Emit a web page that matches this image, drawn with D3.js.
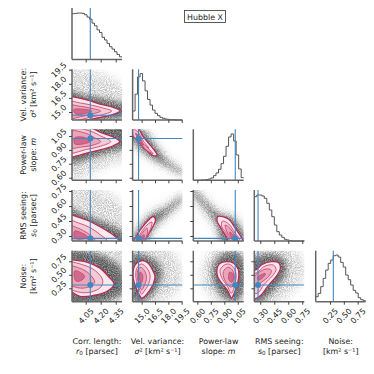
<!DOCTYPE html>
<html>
<head>
<meta charset="utf-8">
<script src="https://cdn.jsdelivr.net/npm/d3@7"></script>
<style>
  html, body { margin: 0; background: #fff; }
  svg { display: block; }
  text { font-family: "DejaVu Sans", sans-serif; fill: #222; }
</style>
</head>
<body>
<svg id="chart" width="374" height="374"></svg>
<script>
// axis limits per parameter
const xLimits = [[3.913, 4.413], [13.98, 19.58], [0.555, 1.116], [0.236, 0.772], [-0.008, 0.895]]
const yLimits = [null, [14.15, 19.54], [0.572, 1.122], [0.25, 0.76], [0.002, 0.946]]
const tickValues = [
  [4.05, 4.2, 4.35],
  [15, 16.5, 18, 19.5],
  [0.6, 0.75, 0.9, 1.05],
  [0.3, 0.45, 0.6, 0.75],
  [0.25, 0.5, 0.75],
]
const tickFormats = [".2f", ".1f", ".2f", ".2f", ".2f"]
const truth = [4.096, 14.65, 1.022, 0.276, 0.31]

// marginal histograms, 20 bins each
const histR0 = [136, 137, 138, 138, 137, 133, 126, 120, 108, 100, 88, 80, 66, 58, 48, 38, 31, 23, 15, 8]
const histSigma = [27, 78, 130, 140, 118, 88, 62, 45, 30, 20, 13, 8, 5, 3, 2, 1, 1, 0, 0, 0]
const histM = [0, 0, 0, 1, 1, 2, 4, 7, 14, 22, 33, 50, 72, 102, 130, 139, 118, 76, 34, 8]
const histS0 = [133, 138, 138, 135, 128, 113, 93, 73, 48, 28, 18, 11, 5, 3, 1, 0, 0, 0, 0, 0]
const histNoise = [15, 25, 45, 70, 95, 115, 125, 138, 140, 134, 118, 104, 80, 66, 50, 34, 26, 12, 6, 3]
const hists = [histR0, histSigma, histM, histS0, histNoise]

// grey sample cloud outlines, faint one first
const hazeR0Sigma = [
  [[3.85, 19.6], [4.1, 19.4], [4.3, 18.6], [4.45, 17.4], [4.5, 14], [3.85, 14]],
  [[3.85, 17.1], [4, 16.9], [4.2, 16.5], [4.42, 15.9], [4.5, 15.5], [4.45, 14.6], [4.2, 14.1], [3.85, 14]],
]
const hazeR0M = [
  [[3.85, 1.2], [4.45, 1.2], [4.45, 0.8], [4.3, 0.75], [4.1, 0.64], [3.85, 0.56]],
  [[3.85, 1.2], [4.45, 1.18], [4.45, 0.93], [4.3, 0.88], [4.1, 0.81], [3.85, 0.76]],
]
const hazeR0S0 = [
  [[3.85, 0.85], [4.1, 0.8], [4.35, 0.68], [4.5, 0.5], [4.5, 0.2], [3.85, 0.2]],
  [[3.85, 0.58], [4, 0.53], [4.2, 0.45], [4.45, 0.32], [4.5, 0.2], [3.85, 0.2]],
]
const hazeR0Noise = [
  [[3.85, 1.05], [4.5, 1.05], [4.5, -0.05], [3.85, -0.05]],
  [[3.85, 0.92], [4.15, 0.9], [4.3, 0.78], [4.41, 0.6], [4.43, 0.2], [4.3, 0.04], [3.85, -0.01]],
]
const hazeSigmaM = [
  [[13.8, 1.16], [15.4, 1.14], [16.7, 0.97], [18.2, 0.79], [19.7, 0.69], [19.7, 0.61], [18.2, 0.68], [16.5, 0.76], [15.2, 0.85], [14, 0.98], [13.8, 1.03]],
  [[13.8, 1.15], [15.2, 1.1], [16.5, 0.94], [18.2, 0.75], [19.7, 0.66], [19.7, 0.64], [18.2, 0.71], [16.5, 0.8], [15.2, 0.88], [14, 1], [13.8, 1.05]],
]
const hazeSigmaS0 = [
  [[13.9, 0.28], [15, 0.46], [16.3, 0.56], [17.8, 0.63], [19.7, 0.74], [19.7, 0.64], [17.8, 0.47], [16.5, 0.36], [15.7, 0.23], [15.3, 0.2], [13.9, 0.2]],
  [[13.9, 0.24], [15, 0.41], [16.3, 0.52], [17.8, 0.58], [19.7, 0.7], [19.7, 0.68], [17.8, 0.52], [16.4, 0.4], [15.6, 0.26], [15.2, 0.2], [13.9, 0.2]],
]
const hazeSigmaNoise = [
  [[14, 1.1], [17, 1.1], [19, 0.8], [19.7, 0.5], [19, 0.2], [16, -0.1], [14, -0.1]],
  [[14, 0.88], [15, 0.88], [16.7, 0.74], [17.3, 0.55], [16.9, 0.3], [15.8, 0.07], [15, -0.01], [14, 0]],
]
const hazeMS0 = [
  [[0.55, 0.8], [0.7, 0.68], [0.85, 0.56], [1, 0.52], [1.13, 0.34], [1.13, 0.2], [0.88, 0.2], [0.78, 0.39], [0.66, 0.54], [0.55, 0.68]],
  [[0.55, 0.77], [0.7, 0.63], [0.85, 0.51], [0.98, 0.48], [1.13, 0.3], [1.13, 0.2], [0.91, 0.2], [0.81, 0.43], [0.69, 0.58], [0.55, 0.73]],
]
const hazeMNoise = [
  [[0.85, 1.05], [1.13, 1.05], [1.13, -0.05], [0.9, -0.05], [0.7, 0.2], [0.64, 0.45], [0.68, 0.75]],
  [[0.9, 0.9], [1.05, 0.9], [1.12, 0.75], [1.12, 0.2], [1.03, 0.02], [0.95, 0.02], [0.83, 0.2], [0.77, 0.45], [0.78, 0.7]],
]
const hazeS0Noise = [
  [[0.2, 1.05], [0.6, 1.05], [0.78, 0.7], [0.75, 0.4], [0.5, 0], [0.3, -0.1], [0.2, -0.1]],
  [[0.2, 0.75], [0.3, 0.86], [0.45, 0.88], [0.57, 0.75], [0.57, 0.5], [0.45, 0.22], [0.3, 0], [0.2, 0]],
]

// posterior contours, outermost first
const levelsR0Sigma = [
  [[3.85, 16.7], [3.913, 16.63], [4.06, 16.28], [4.193, 15.85], [4.326, 15.5], [4.393, 15.14], [4.326, 14.75], [4.193, 14.43], [4.09, 14.22], [3.85, 14]],
  [[3.85, 16.1], [4, 15.95], [4.12, 15.7], [4.23, 15.4], [4.31, 15.1], [4.23, 14.75], [4.1, 14.45], [3.85, 14.1]],
  [[3.85, 15.7], [4, 15.6], [4.1, 15.4], [4.2, 15.1], [4.1, 14.75], [4, 14.5], [3.85, 14.3]],
  [[3.93, 15.25], [4.02, 15.3], [4.11, 15.1], [4.05, 14.85], [3.95, 14.8]],
]
const levelsR0M = [
  [[3.85, 1.16], [4.1, 1.14], [4.193, 1.09], [4.326, 1.04], [4.39, 0.99], [4.326, 0.945], [4.193, 0.9], [4.06, 0.866], [3.913, 0.82], [3.85, 0.8]],
  [[3.85, 1.14], [4.1, 1.1], [4.2, 1.05], [4.3, 0.99], [4.2, 0.94], [4.06, 0.905], [3.85, 0.87]],
  [[3.85, 1.1], [4.05, 1.08], [4.14, 1.03], [4.2, 0.99], [4.12, 0.95], [4, 0.93], [3.85, 0.92]],
  [[3.94, 1.03], [4.05, 1.03], [4.09, 0.99], [4.03, 0.965], [3.94, 0.965]],
]
const levelsR0S0 = [
  [[3.85, 0.53], [3.913, 0.51], [4.06, 0.46], [4.193, 0.393], [4.326, 0.31], [4.38, 0.26], [4.4, 0.2], [3.85, 0.2]],
  [[3.85, 0.46], [3.98, 0.43], [4.1, 0.38], [4.2, 0.31], [4.26, 0.26], [4.26, 0.2], [3.85, 0.2]],
  [[3.85, 0.41], [3.97, 0.38], [4.08, 0.32], [4.14, 0.26], [4.1, 0.22], [3.85, 0.22]],
  [[3.94, 0.35], [4, 0.335], [4.07, 0.29], [4.02, 0.27], [3.94, 0.28]],
]
const levelsR0Noise = [
  [[3.85, 0.8], [3.913, 0.778], [4.06, 0.735], [4.193, 0.624], [4.276, 0.47], [4.333, 0.33], [4.26, 0.19], [4.126, 0.117], [3.993, 0.1], [3.913, 0.18], [3.85, 0.25]],
  [[3.85, 0.72], [4.03, 0.68], [4.15, 0.57], [4.22, 0.4], [4.2, 0.27], [4.1, 0.18], [3.98, 0.18], [3.85, 0.3]],
  [[3.85, 0.66], [4.02, 0.6], [4.1, 0.49], [4.14, 0.36], [4.05, 0.26], [3.95, 0.27], [3.85, 0.37]],
  [[3.94, 0.57], [4, 0.54], [4.04, 0.47], [4, 0.39], [3.95, 0.39]],
]
const levelsSigmaM = [
  [[13.8, 1.13], [14.6, 1.13], [15.1, 1.05], [15.7, 0.98], [16.4, 0.9], [16.72, 0.845], [16.4, 0.835], [15.37, 0.91], [14.5, 1.01], [13.8, 1.08]],
  [[14, 1.12], [14.5, 1.1], [15.3, 0.98], [15.8, 0.92], [15.2, 0.94], [14.6, 1], [14, 1.06]],
  [[14.9, 0.98], [15.5, 0.94], [16.1, 0.88], [16.3, 0.86], [15.7, 0.885], [15.2, 0.93]],
  [[14.3, 1.08], [14.7, 1.05], [15.1, 0.98], [15.2, 0.95], [14.8, 0.99]],
]
const levelsSigmaS0 = [
  [[14, 0.24], [14.25, 0.27], [14.8, 0.355], [15.56, 0.44], [16.3, 0.495], [16.55, 0.46], [16.3, 0.4], [15.93, 0.343], [15.4, 0.26], [15.1, 0.2], [14, 0.2]],
  [[14.4, 0.24], [14.9, 0.33], [15.6, 0.41], [16.15, 0.44], [16, 0.37], [15.6, 0.3], [15.1, 0.22]],
  [[14.5, 0.24], [15, 0.32], [15.6, 0.38], [15.6, 0.31], [15.1, 0.24]],
  [[14.6, 0.24], [15, 0.3], [15.3, 0.31], [15.1, 0.25], [14.8, 0.22]],
]
const levelsSigmaNoise = [
  [[15, 0.76], [15.7, 0.72], [16.12, 0.62], [16.5, 0.47], [16.3, 0.33], [15.93, 0.22], [15.4, 0.11], [15, 0.07], [14.7, 0.14], [14.4, 0.25], [14.05, 0.44], [14.25, 0.68]],
  [[14.95, 0.7], [15.6, 0.62], [15.95, 0.48], [15.7, 0.3], [15.3, 0.2], [15, 0.14], [14.7, 0.25], [14.35, 0.45], [14.45, 0.62]],
  [[14.9, 0.64], [15.3, 0.58], [15.55, 0.45], [15.3, 0.3], [15, 0.22], [14.7, 0.32], [14.5, 0.47], [14.6, 0.6]],
  [[14.85, 0.55], [15.1, 0.5], [15.08, 0.39], [14.9, 0.34], [14.75, 0.43], [14.72, 0.51]],
]
const levelsMS0 = [
  [[0.83, 0.495], [0.945, 0.47], [1.02, 0.38], [1.1, 0.27], [1.13, 0.2], [0.94, 0.2], [0.94, 0.26], [0.87, 0.37], [0.82, 0.45]],
  [[0.88, 0.45], [0.95, 0.42], [1.02, 0.33], [1.07, 0.26], [0.98, 0.24], [0.92, 0.33], [0.87, 0.4]],
  [[0.91, 0.41], [0.96, 0.38], [1.02, 0.3], [1.04, 0.25], [0.99, 0.26], [0.93, 0.34]],
  [[0.96, 0.34], [1, 0.31], [1.03, 0.26], [0.99, 0.27]],
]
const levelsMNoise = [
  [[0.927, 0.745], [1, 0.72], [1.055, 0.6], [1.06, 0.45], [1.04, 0.3], [1, 0.12], [0.98, 0.07], [0.94, 0.2], [0.87, 0.35], [0.825, 0.47], [0.82, 0.62], [0.85, 0.71]],
  [[0.93, 0.7], [0.99, 0.66], [1.03, 0.53], [1.02, 0.33], [0.98, 0.16], [0.93, 0.3], [0.87, 0.45], [0.855, 0.6]],
  [[0.94, 0.64], [0.99, 0.59], [1.01, 0.46], [0.99, 0.28], [0.96, 0.28], [0.9, 0.42], [0.89, 0.56]],
  [[0.96, 0.55], [1, 0.51], [1, 0.41], [0.98, 0.36], [0.95, 0.42], [0.95, 0.51]],
]
const levelsS0Noise = [
  [[0.2, 0.55], [0.26, 0.6], [0.32, 0.69], [0.42, 0.745], [0.5, 0.72], [0.515, 0.62], [0.48, 0.49], [0.385, 0.3], [0.3, 0.11], [0.23, 0.05], [0.2, 0.1]],
  [[0.2, 0.47], [0.28, 0.56], [0.35, 0.66], [0.44, 0.68], [0.47, 0.6], [0.43, 0.48], [0.34, 0.32], [0.27, 0.16], [0.2, 0.18]],
  [[0.24, 0.47], [0.3, 0.56], [0.37, 0.61], [0.42, 0.58], [0.39, 0.47], [0.31, 0.36], [0.25, 0.28]],
  [[0.27, 0.45], [0.32, 0.51], [0.355, 0.52], [0.335, 0.46], [0.28, 0.4]],
]

const pairs = [
  { row: 1, col: 0, haze: hazeR0Sigma, levels: levelsR0Sigma },
  { row: 2, col: 0, haze: hazeR0M, levels: levelsR0M },
  { row: 3, col: 0, haze: hazeR0S0, levels: levelsR0S0 },
  { row: 4, col: 0, haze: hazeR0Noise, levels: levelsR0Noise },
  { row: 2, col: 1, haze: hazeSigmaM, levels: levelsSigmaM },
  { row: 3, col: 1, haze: hazeSigmaS0, levels: levelsSigmaS0 },
  { row: 4, col: 1, haze: hazeSigmaNoise, levels: levelsSigmaNoise },
  { row: 3, col: 2, haze: hazeMS0, levels: levelsMS0 },
  { row: 4, col: 2, haze: hazeMNoise, levels: levelsMNoise },
  { row: 4, col: 3, haze: hazeS0Noise, levels: levelsS0Noise },
]

const xLabels = [
  [["Corr. length:"], [["r", true], ["0", false, true], [" [parsec]"]]],
  [["Vel. variance:"], [["σ", true], ["²"], [" [km² s⁻¹]"]]],
  [["Power-law"], [["slope: "], ["m", true]]],
  [["RMS seeing:"], [["s", true], ["0", false, true], [" [parsec]"]]],
  [["Noise:"], [["[km² s⁻¹]"]]],
]

// panel geometry
const colX = [[72, 122], [132.6, 182.4], [193.3, 243.7], [254.3, 304.3], [315.7, 365.7]]
const rowY = [[8, 59.5], [69.3, 120], [129.3, 180.3], [190, 241], [250.7, 301.7]]

const levelFill = ["#f9e9ed", "#f3cbd6", "#e8a6ba", "#d06a8b"]
const truthColor = "#4287c0"
const spineColor = "#666"

const svg = d3.select("#chart")
const defs = svg.append("defs")

// sample cloud: blurred outline masked by fine noise, faint layer grainier than the dense one
const addCloudFilter = (id, blur, gain, offset) => {
  const f = defs.append("filter")
    .attr("id", id)
    .attr("filterUnits", "userSpaceOnUse")
    .attr("x", 0).attr("y", 0).attr("width", 374).attr("height", 374)
  f.append("feGaussianBlur").attr("in", "SourceGraphic").attr("stdDeviation", blur).attr("result", "soft")
  f.append("feTurbulence")
    .attr("type", "fractalNoise")
    .attr("baseFrequency", 0.95)
    .attr("numOctaves", 2)
    .attr("seed", 4)
  f.append("feColorMatrix")
    .attr("values", `0 0 0 0 0  0 0 0 0 0  0 0 0 0 0  ${gain} 0 0 0 ${offset}`)
    .attr("result", "grain")
  f.append("feComposite").attr("in", "soft").attr("in2", "grain").attr("operator", "in")
  f.append("feGaussianBlur").attr("stdDeviation", 0.55)
}
addCloudFilter("faint", 5, 2.4, -0.7)
addCloudFilter("dense", 3, 0.9, 0.35)

const soften = defs.append("filter").attr("id", "soften")
soften.append("feGaussianBlur").attr("stdDeviation", 0.3)

const xScale = (col) => d3.scaleLinear().domain(xLimits[col]).range(colX[col])
const yScale = (row) => d3.scaleLinear().domain(yLimits[row]).range([rowY[row][1], rowY[row][0]])

const drawAxes = (g, row, col, withY) => {
  const x = xScale(col)
  const bottom = rowY[row][1]
  const ax = g.append("g")
    .attr("transform", `translate(0,${bottom})`)
    .call(d3.axisBottom(x).tickValues(tickValues[col]).tickSize(3).tickFormat(d3.format(tickFormats[col])))
  ax.select(".domain").attr("stroke", spineColor).attr("stroke-width", 1.5).attr("d", `M${colX[col][0]},0H${colX[col][1]}`)
  ax.selectAll(".tick line").attr("stroke", "#333").attr("stroke-width", 0.9)
  if (row === 4) {
    ax.selectAll(".tick text")
      .attr("font-size", 8).attr("fill", "#222").attr("text-anchor", "middle")
      .attr("dy", 0).attr("y", 0).attr("dominant-baseline", "middle")
      .attr("transform", "translate(0,14.5) rotate(-45)")
  } else {
    ax.selectAll(".tick text").remove()
  }

  if (withY) {
    const y = yScale(row)
    const ay = g.append("g")
      .attr("transform", `translate(${colX[col][0]},0)`)
      .call(d3.axisLeft(y).tickValues(tickValues[row]).tickSize(3).tickFormat(d3.format(tickFormats[row])))
    ay.selectAll(".tick line").attr("stroke", "#333").attr("stroke-width", 0.9)
    if (col === 0) {
      ay.selectAll(".tick text")
        .attr("font-size", 8).attr("fill", "#222").attr("text-anchor", "middle")
        .attr("dy", 0).attr("x", 0).attr("dominant-baseline", "middle")
        .attr("transform", "translate(-13,0) rotate(-45)")
    } else {
      ay.selectAll(".tick text").remove()
    }
    ay.select(".domain").attr("stroke", spineColor).attr("stroke-width", 1.5).attr("d", `M0,${rowY[row][0]}V${rowY[row][1]}`)
  } else {
    g.append("line")
      .attr("x1", colX[col][0]).attr("x2", colX[col][0])
      .attr("y1", rowY[row][0]).attr("y2", rowY[row][1])
      .attr("stroke", spineColor).attr("stroke-width", 1.5)
  }
}

// lower triangle
pairs.forEach((p, i) => {
  const x = xScale(p.col)
  const y = yScale(p.row)
  const clipId = `clip-${i}`
  defs.append("clipPath").attr("id", clipId).append("rect")
    .attr("x", colX[p.col][0]).attr("y", rowY[p.row][0])
    .attr("width", colX[p.col][1] - colX[p.col][0]).attr("height", rowY[p.row][1] - rowY[p.row][0])

  const outline = d3.line().x((d) => x(d[0])).y((d) => y(d[1])).curve(d3.curveCatmullRomClosed.alpha(0.5))
  const g = svg.append("g")
  const inner = g.append("g").attr("clip-path", `url(#${clipId})`)

  inner.append("g").attr("filter", "url(#faint)").append("path")
    .attr("d", outline(p.haze[0]))
    .attr("fill", "#666").attr("fill-opacity", 0.42)
  inner.append("g").attr("filter", "url(#dense)").append("path")
    .attr("d", outline(p.haze[1]))
    .attr("fill", "#3a3a3a").attr("fill-opacity", 0.85)

  const contours = inner.append("g").attr("filter", "url(#soften)")
  contours.selectAll("path.level").data(p.levels).join("path")
    .attr("class", "level")
    .attr("d", outline)
    .attr("fill", (d, k) => levelFill[k])
    .attr("stroke", (d, k) => (k === 0 ? "#b62c59" : "#c84a73"))
    .attr("stroke-width", (d, k) => (k === 0 ? 1.3 : 0.9))

  inner.append("line")
    .attr("x1", x(truth[p.col])).attr("x2", x(truth[p.col]))
    .attr("y1", rowY[p.row][0]).attr("y2", rowY[p.row][1])
    .attr("stroke", truthColor).attr("stroke-width", 1.1)
  inner.append("line")
    .attr("x1", colX[p.col][0]).attr("x2", colX[p.col][1])
    .attr("y1", y(truth[p.row])).attr("y2", y(truth[p.row]))
    .attr("stroke", truthColor).attr("stroke-width", 1.1)
  inner.append("circle")
    .attr("cx", x(truth[p.col])).attr("cy", y(truth[p.row]))
    .attr("r", 3).attr("fill", truthColor)

  drawAxes(g, p.row, p.col, true)
})

// diagonal histograms
hists.forEach((counts, d) => {
  const bin = d3.scaleLinear().domain([0, counts.length]).range(colX[d])
  const h = d3.scaleLinear().domain([0, 153]).range([rowY[d][1], rowY[d][0]])
  const g = svg.append("g")
  const steps = counts.map((c, i) => [i, c]).concat([[counts.length, counts[counts.length - 1]]])
  g.append("path")
    .attr("d", d3.line().x((s) => bin(s[0])).y((s) => h(s[1])).curve(d3.curveStepAfter)(steps))
    .attr("fill", "none").attr("stroke", "#555").attr("stroke-width", 1)
  g.append("line")
    .attr("x1", xScale(d)(truth[d])).attr("x2", xScale(d)(truth[d]))
    .attr("y1", rowY[d][0]).attr("y2", rowY[d][1])
    .attr("stroke", truthColor).attr("stroke-width", 1.1)
  drawAxes(g, d, d, false)
})

// two line labels with math parts in italics
const addLabel = (parent, lines) => {
  lines.forEach((line, n) => {
    const t = parent.append("text").attr("text-anchor", "middle").attr("y", n * 9.8).attr("font-size", 7.9)
    const parts = Array.isArray(line[0]) ? line : [line]
    parts.forEach((part) => {
      const s = t.append("tspan").text(part[0])
      if (part[1]) s.attr("font-style", "italic")
      if (part[2]) s.attr("font-size", 5.6).attr("dy", 1.5)
      else if (part[0].startsWith(" [")) s.attr("dy", parts[1] && parts[1][2] ? -1.5 : 0)
    })
  })
}

xLabels.forEach((lines, i) => {
  const cx = (colX[i][0] + colX[i][1]) / 2
  addLabel(svg.append("g").attr("transform", `translate(${cx},344)`), lines)
})

const yLabelRows = [
  [1, [["Vel. variance:"], [["σ", true], ["²"], [" [km² s⁻¹]"]]]],
  [2, [["Power-law"], [["slope: "], ["m", true]]]],
  [3, [["RMS seeing:"], [["s", true], ["0", false, true], [" [parsec]"]]]],
  [4, [["Noise:"], [["[km² s⁻¹]"]]]],
]
yLabelRows.forEach(([row, lines]) => {
  const cy = (rowY[row][0] + rowY[row][1]) / 2
  addLabel(svg.append("g").attr("transform", `translate(26,${cy}) rotate(-90)`), lines)
})

// title box
const title = svg.append("g")
title.append("rect")
  .attr("x", 184.5).attr("y", 10.5).attr("width", 41).attr("height", 12)
  .attr("fill", "#fff").attr("stroke", "#333").attr("stroke-width", 0.8)
title.append("text")
  .attr("x", 205).attr("y", 19.5).attr("text-anchor", "middle").attr("font-size", 7.9)
  .text("Hubble X")
</script>
</body>
</html>
